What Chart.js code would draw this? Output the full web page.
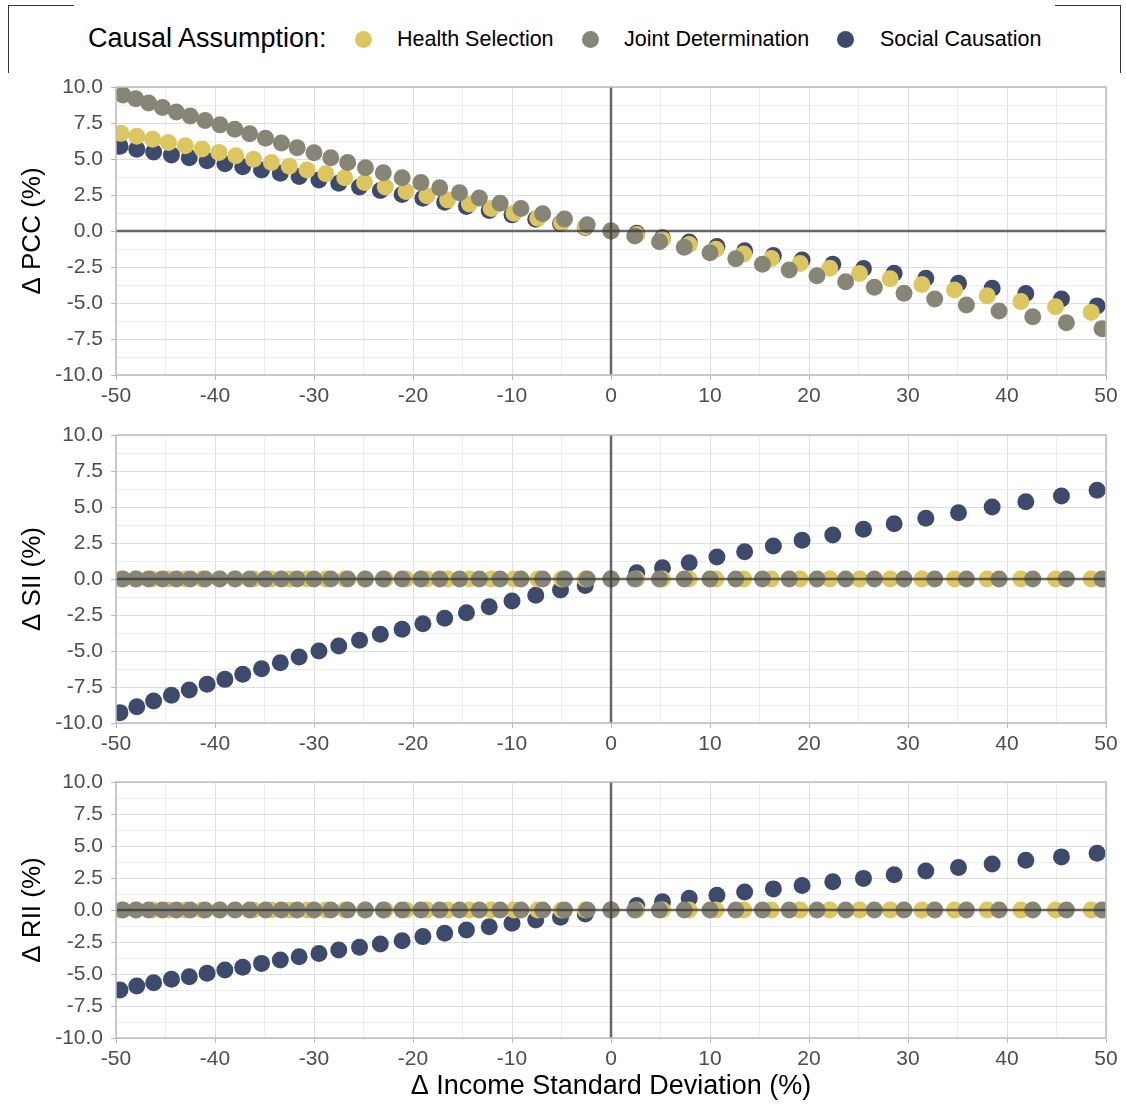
<!DOCTYPE html>
<html>
<head>
<meta charset="utf-8">
<script src="https://cdn.jsdelivr.net/npm/chart.js@4.4.1/dist/chart.umd.min.js"></script>
<style>
  body { margin: 0; background: #fff; width: 1126px; height: 1104px; position: relative; overflow: hidden;
         font-family: "Liberation Sans", Arial, sans-serif; }
  canvas { position: absolute; left: 0; }
  .frame { position: absolute; top: 5px; height: 67px; width: 65px; border-top: 1px solid #333; }
  .legend { position: absolute; top: 0; left: 0; width: 1126px; height: 78px; }
  .legend span { position: absolute; white-space: nowrap; }
  .ltitle { left: 88px; top: 23px; font-size: 27px; color: #000; }
  .lab { top: 27px; font-size: 21.5px; color: #000; }
  .dot { top: 31px; width: 17px; height: 17px; border-radius: 50%; }
</style>
</head>
<body>
<div class="frame" style="left:8px;border-left:1px solid #333;"></div>
<div class="frame" style="left:1055px;border-right:1px solid #333;"></div>
<div class="legend">
  <span class="ltitle">Causal Assumption:</span>
  <span class="dot" style="left:355px;background:#DCC660;"></span>
  <span class="lab" style="left:397px;">Health Selection</span>
  <span class="dot" style="left:582px;background:#878576;"></span>
  <span class="lab" style="left:624px;">Joint Determination</span>
  <span class="dot" style="left:837px;background:#3D4A6B;"></span>
  <span class="lab" style="left:880px;">Social Causation</span>
</div>
<canvas id="c1" width="1126" height="358" style="top:57px"></canvas>
<canvas id="c2" width="1126" height="358" style="top:405px"></canvas>
<canvas id="c3" width="1126" height="352" style="top:752px"></canvas>
<script>
// x = change in income SD (%), per causal assumption
var xHealth = [-49.5, -47.9, -46.3, -44.7, -43.0, -41.3, -39.6, -37.9, -36.1, -34.3, -32.5, -30.7, -28.8,
  -26.9, -24.9, -22.8, -20.7, -18.6, -16.5, -14.3, -12.1, -9.8, -7.4, -5.0, -2.6, 0,
  2.6, 5.2, 7.9, 10.6, 13.4, 16.2, 19.1, 22.1, 25.1, 28.2, 31.4, 34.7, 38.0, 41.4, 44.9, 48.5];
var xJoint = [-49.3, -48.0, -46.7, -45.3, -43.9, -42.5, -41.0, -39.5, -38.0, -36.5, -34.9, -33.3, -31.7,
  -30.0, -28.3, -26.6, -24.8, -23.0, -21.1, -19.2, -17.3, -15.3, -13.3, -11.2, -9.1, -6.9, -4.7, -2.4, 0,
  2.4, 4.9, 7.4, 10.0, 12.6, 15.3, 18.0, 20.8, 23.7, 26.6, 29.6, 32.7, 35.9, 39.2, 42.6, 46.0, 49.6];
var xSocial = [-49.6, -47.9, -46.2, -44.4, -42.6, -40.8, -39.0, -37.2, -35.3, -33.4, -31.5, -29.5, -27.5,
  -25.4, -23.3, -21.1, -19.0, -16.8, -14.6, -12.3, -10.0, -7.6, -5.1, -2.6, 0,
  2.6, 5.2, 7.9, 10.7, 13.5, 16.4, 19.3, 22.4, 25.5, 28.6, 31.8, 35.1, 38.5, 41.9, 45.5, 49.1];

// Δ PCC (%)
var pccHealth = [6.78, 6.58, 6.37, 6.15, 5.92, 5.69, 5.46, 5.23, 4.99, 4.75, 4.50, 4.24, 3.97,
  3.69, 3.37, 3.05, 2.74, 2.44, 2.16, 1.87, 1.56, 1.23, 0.88, 0.55, 0.28, 0,
  -0.25, -0.58, -0.93, -1.26, -1.59, -1.91, -2.25, -2.59, -2.95, -3.32, -3.71, -4.09, -4.49, -4.89, -5.26, -5.65];
var pccJoint = [9.44, 9.19, 8.89, 8.57, 8.27, 7.98, 7.68, 7.37, 7.06, 6.76, 6.44, 6.11, 5.78,
  5.44, 5.09, 4.75, 4.39, 4.05, 3.70, 3.36, 3.01, 2.65, 2.29, 1.92, 1.56, 1.20, 0.84, 0.43, 0,
  -0.35, -0.74, -1.13, -1.51, -1.92, -2.31, -2.71, -3.10, -3.52, -3.91, -4.33, -4.72, -5.14, -5.56, -5.95, -6.37, -6.78];
var pccSocial = [5.88, 5.68, 5.48, 5.28, 5.08, 4.88, 4.67, 4.46, 4.24, 4.01, 3.78, 3.55, 3.31,
  3.06, 2.81, 2.54, 2.27, 1.99, 1.71, 1.42, 1.12, 0.82, 0.52, 0.25, 0,
  -0.16, -0.47, -0.76, -1.08, -1.38, -1.71, -2.01, -2.31, -2.61, -2.94, -3.28, -3.63, -3.98, -4.34, -4.72, -5.20];

// Δ SII (%)
var siiHealth = [0, 0, 0, 0, 0, 0, 0, 0, 0, 0, 0, 0, 0, 0, 0, 0, 0, 0, 0, 0, 0, 0, 0, 0, 0, 0,
  0, 0, 0, 0, 0, 0, 0, 0, 0, 0, 0, 0, 0, 0, 0, 0];
var siiJoint = [0, 0, 0, 0, 0, 0, 0, 0, 0, 0, 0, 0, 0, 0, 0, 0, 0, 0, 0, 0, 0, 0, 0, 0, 0, 0, 0, 0, 0,
  0, 0, 0, 0, 0, 0, 0, 0, 0, 0, 0, 0, 0, 0, 0, 0, 0];
var siiSocial = [-9.28, -8.87, -8.47, -8.08, -7.71, -7.31, -6.97, -6.62, -6.23, -5.81, -5.42, -5.00, -4.65,
  -4.26, -3.84, -3.49, -3.10, -2.73, -2.34, -1.92, -1.53, -1.13, -0.76, -0.45, 0,
  0.44, 0.78, 1.13, 1.53, 1.90, 2.29, 2.69, 3.06, 3.45, 3.84, 4.22, 4.60, 5.00, 5.37, 5.76, 6.16];

// Δ RII (%)
var riiHealth = [0, 0, 0, 0, 0, 0, 0, 0, 0, 0, 0, 0, 0, 0, 0, 0, 0, 0, 0, 0, 0, 0, 0, 0, 0, 0,
  0, 0, 0, 0, 0, 0, 0, 0, 0, 0, 0, 0, 0, 0, 0, 0];
var riiJoint = [0, 0, 0, 0, 0, 0, 0, 0, 0, 0, 0, 0, 0, 0, 0, 0, 0, 0, 0, 0, 0, 0, 0, 0, 0, 0, 0, 0, 0,
  0, 0, 0, 0, 0, 0, 0, 0, 0, 0, 0, 0, 0, 0, 0, 0, 0];
var riiSocial = [-6.25, -5.94, -5.68, -5.41, -5.21, -4.95, -4.69, -4.48, -4.17, -3.91, -3.65, -3.39, -3.13,
  -2.91, -2.66, -2.40, -2.08, -1.82, -1.56, -1.30, -1.04, -0.78, -0.57, -0.31, 0,
  0.36, 0.64, 0.91, 1.16, 1.40, 1.65, 1.92, 2.20, 2.47, 2.75, 3.04, 3.32, 3.60, 3.88, 4.15, 4.43];

var colHealth = "#DCC660";
var colJoint = "#878576";
var colSocial = "#3D4A6B";

function pairs(xs, ys) {
  return xs.map(function (x, i) { return { x: x, y: ys[i] }; });
}

function isMajor(v, step) {
  return Math.abs(v / step - Math.round(v / step)) < 1e-6;
}

// panel border + zero reference lines drawn on top of the points
var panelDeco = {
  id: "panelDeco",
  afterDatasetsDraw: function (chart) {
    var a = chart.chartArea, ctx = chart.ctx;
    var x0 = chart.scales.x.getPixelForValue(0);
    var y0 = chart.scales.y.getPixelForValue(0);
    ctx.save();
    ctx.strokeStyle = "rgba(50,50,50,0.72)";
    ctx.lineWidth = 2.5;
    ctx.beginPath();
    ctx.moveTo(a.left, y0); ctx.lineTo(a.right, y0);
    ctx.moveTo(x0, a.top); ctx.lineTo(x0, a.bottom);
    ctx.stroke();
    ctx.strokeStyle = "#bdbdbd";
    ctx.lineWidth = 1.5;
    ctx.strokeRect(a.left, a.top, a.right - a.left, a.bottom - a.top);
    ctx.restore();
  }
};

function makeChart(id, yH, yJ, yS, yTitle, xH, xTitle) {
  var ctx = document.getElementById(id).getContext("2d");
  return new Chart(ctx, {
    type: "scatter",
    data: {
      datasets: [
        { label: "Joint Determination", data: pairs(xJoint, yJ), backgroundColor: colJoint, order: 1 },
        { label: "Health Selection", data: pairs(xHealth, yH), backgroundColor: colHealth, order: 2 },
        { label: "Social Causation", data: pairs(xSocial, yS), backgroundColor: colSocial, order: 3 }
      ]
    },
    options: {
      responsive: false,
      animation: false,
      devicePixelRatio: 1,
      layout: { padding: { left: 0, right: 20, top: 30, bottom: 0 } },
      elements: { point: { radius: 8.5, borderWidth: 0, hoverRadius: 8.5 } },
      datasets: { scatter: { clip: 0 } },
      plugins: { legend: { display: false }, tooltip: { enabled: false } },
      scales: {
        x: {
          type: "linear", min: -50, max: 50,
          afterFit: function (s) { s.height = xH; },
          border: { display: false },
          grid: {
            color: function (c) { return isMajor(c.tick.value, 10) ? "#dedede" : "#ececec"; },
            tickLength: 5,
            tickColor: function (c) { return isMajor(c.tick.value, 10) ? "#b8b8b8" : "rgba(0,0,0,0)"; }
          },
          ticks: {
            stepSize: 5, autoSkip: false, maxRotation: 0, padding: 4,
            color: "#4d4d4d", font: { family: "Liberation Sans", size: 21 },
            callback: function (v) { return isMajor(v, 10) ? String(v) : ""; }
          },
          title: {
            display: !!xTitle, text: xTitle || "", color: "#000",
            font: { family: "Liberation Sans", size: 27 }, padding: { top: 0, bottom: 1 }
          }
        },
        y: {
          type: "linear", min: -10, max: 10,
          afterFit: function (s) { s.width = 116; },
          border: { display: false },
          grid: {
            color: function (c) { return isMajor(c.tick.value, 2.5) ? "#dedede" : "#ececec"; },
            tickLength: 5,
            tickColor: function (c) { return isMajor(c.tick.value, 2.5) ? "#b8b8b8" : "rgba(0,0,0,0)"; }
          },
          ticks: {
            stepSize: 1.25, autoSkip: false, padding: 8,
            color: "#4d4d4d", font: { family: "Liberation Sans", size: 21 },
            callback: function (v) { return isMajor(v, 2.5) ? v.toFixed(1) : ""; }
          },
          title: {
            display: true, text: yTitle, color: "#000",
            font: { family: "Liberation Sans", size: 26 }, padding: { top: 17, bottom: 0 }
          }
        }
      }
    },
    plugins: [panelDeco]
  });
}

makeChart("c1", pccHealth, pccJoint, pccSocial, "Δ PCC (%)", 40, null);
makeChart("c2", siiHealth, siiJoint, siiSocial, "Δ SII (%)", 40, null);
makeChart("c3", riiHealth, riiJoint, riiSocial, "Δ RII (%)", 66, "Δ Income Standard Deviation (%)");
</script>
</body>
</html>
